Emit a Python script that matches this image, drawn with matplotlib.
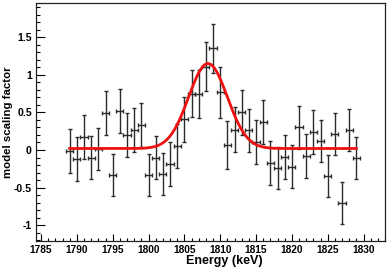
import numpy as np
import matplotlib
matplotlib.use("Agg")
import matplotlib.pyplot as plt

energy = [1789, 1790, 1791, 1792, 1793, 1794, 1795, 1796, 1797, 1798,
          1799, 1800, 1801, 1802, 1803, 1804, 1805, 1806, 1807, 1808,
          1809, 1810, 1811, 1812, 1813, 1814, 1815, 1816, 1817, 1818,
          1819, 1820, 1821, 1822, 1823, 1824, 1825, 1826, 1827, 1828, 1829]
scale = [-0.01, -0.12, 0.17, -0.10, 0.01, 0.49, -0.33, 0.52, 0.20, 0.27,
         0.33, -0.33, -0.10, -0.32, -0.19, 0.05, 0.41, 0.75, 0.75, 1.11,
         1.35, 0.77, 0.07, 0.27, 0.50, 0.26, 0.11, 0.37, -0.17, -0.24,
         -0.09, -0.22, 0.30, -0.08, 0.24, 0.12, -0.35, 0.21, -0.70, 0.27, -0.11]
scale_err = [0.29, 0.29, 0.29, 0.29, 0.28, 0.29, 0.28, 0.29, 0.29, 0.29,
             0.29, 0.28, 0.29, 0.28, 0.29, 0.29, 0.30, 0.31, 0.32, 0.32,
             0.32, 0.34, 0.32, 0.30, 0.30, 0.29, 0.29, 0.29, 0.29, 0.28,
             0.29, 0.29, 0.29, 0.29, 0.29, 0.28, 0.28, 0.28, 0.28, 0.28, 0.28]
energy_halfwidth = 0.5

# Gaussian fit parameters (baseline, amplitude, centroid keV, sigma keV)
fit_baseline = 0.02
fit_amplitude = 1.13
fit_centroid = 1808.3
fit_sigma = 2.7
fit_range = (1789, 1829)

x_ticks = [1785, 1790, 1795, 1800, 1805, 1810, 1815, 1820, 1825, 1830]
y_ticks = [-1, -0.5, 0, 0.5, 1, 1.5]
y_tick_labels = ["-1", "-0.5", "0", "0.5", "1", "1.5"]

plt.rcParams['font.family'] = ['Liberation Sans', 'DejaVu Sans']

fig = plt.figure(figsize=(3.92, 2.70), dpi=100)
ax = fig.add_axes([36/392, 29/270, 349/392, 238/270])

ax.errorbar(energy, scale, yerr=scale_err, xerr=energy_halfwidth,
            fmt='none', ecolor='#2b2b2b', elinewidth=1.0, capsize=1.6,
            capthick=1.0, zorder=2)

xf = np.linspace(fit_range[0], fit_range[1], 400)
yf = fit_baseline + fit_amplitude * np.exp(-0.5 * ((xf - fit_centroid) / fit_sigma) ** 2)
ax.plot(xf, yf, color='#ee1111', lw=2.0, zorder=3)

ax.set_xlim(1784.3, 1833.0)
ax.set_ylim(-1.21, 1.955)

ax.set_xticks(x_ticks)
ax.set_xticks(np.arange(1785, 1834, 1), minor=True)
ax.set_yticks(y_ticks)
ax.set_yticklabels(y_tick_labels)
ax.set_yticks(np.arange(-1.2, 1.96, 0.1), minor=True)

ax.tick_params(axis='both', which='both', direction='in', top=False, right=False)
ax.tick_params(axis='x', which='major', length=5, width=0.8, labelsize=7.3, pad=3)
ax.tick_params(axis='x', which='minor', length=2.5, width=0.8)
ax.tick_params(axis='y', which='major', length=6.5, width=0.8, labelsize=7.6, pad=3)
ax.tick_params(axis='y', which='minor', length=3.2, width=0.8)
for lab in ax.get_xticklabels() + ax.get_yticklabels():
    lab.set_fontweight('bold')

for sp in ax.spines.values():
    sp.set_linewidth(0.9)
    sp.set_color('#222222')

ax.set_xlabel('Energy (keV)', fontsize=9, fontweight='bold')
ax.set_ylabel('model scaling factor', fontsize=8.2, fontweight='bold')
ax.xaxis.set_label_coords(0.54, -0.058)
ax.yaxis.set_label_coords(-0.066, 0.5)

fig.savefig('out.png', dpi=100)
